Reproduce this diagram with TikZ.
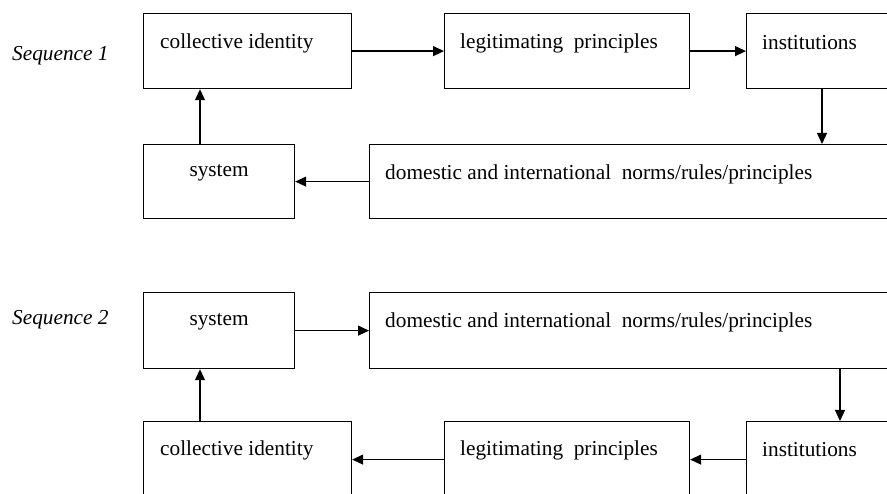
\documentclass[tikz,border=0pt]{standalone}
\usepackage{fontspec}
\setmainfont{Liberation Serif}
\usetikzlibrary{arrows.meta}
\begin{document}
\begin{tikzpicture}[x=1pt, y=-1pt,
    box/.style={draw, line width=1.2pt, rectangle, anchor=north west, inner sep=0pt},
    testo/.style={anchor=west, inner sep=0pt, font=\fontsize{21.3}{25}\selectfont},
    freccia/.style={line width=1.2pt, -{Triangle[length=11pt, width=10pt]}}]
    % Cornice
    \useasboundingbox (0,0) rectangle (887,494);
    \clip (0,0) rectangle (887,494);

    % Sequenza 1: riquadri
    \node[testo, font=\fontsize{21.3}{25}\selectfont\itshape] (seq1) at (12,56) {Sequence 1};
    \node[box, minimum width=208pt, minimum height=75pt] (ci1) at (143,13) {};
    \node[box, minimum width=245pt, minimum height=75pt] (lp1) at (444,13) {};
    \node[box, minimum width=160pt, minimum height=75pt] (in1) at (746,13) {};
    \node[box, minimum width=151pt, minimum height=74pt] (sy1) at (143,144) {};
    \node[box, minimum width=540pt, minimum height=74pt] (dn1) at (369,144) {};

    % Sequenza 1: testi
    \node[testo] (ci1t) at ([xshift=17pt, yshift=-30pt]ci1.north west) {collective identity};
    \node[testo] (lp1t) at ([xshift=16pt, yshift=-30pt]lp1.north west) {legitimating\ \ principles};
    \node[testo] (in1t) at ([xshift=16pt, yshift=-30pt]in1.north west) {institutions};
    \node[testo, anchor=center] (sy1t) at ([yshift=-29pt]sy1.north) {system};
    \node[testo] (dn1t) at ([xshift=16pt, yshift=-30pt]dn1.north west) {domestic and international\ \ norms/rules/principles};

    % Sequenza 1: frecce
    \draw[freccia] (ci1.east) -- (lp1.west);
    \draw[freccia] (lp1.east) -- (in1.west);
    \draw[freccia] ([xshift=76pt]in1.south west) -- ([xshift=453pt]dn1.north west);
    \draw[freccia] (dn1.west) -- (sy1.east);
    \draw[freccia] ([xshift=57pt]sy1.north west) -- ([xshift=57pt]ci1.south west);

    % Sequenza 2: riquadri
    \node[testo, font=\fontsize{21.3}{25}\selectfont\itshape] (seq2) at (12,320) {Sequence 2};
    \node[box, minimum width=151pt, minimum height=76pt] (sy2) at (143,292) {};
    \node[box, minimum width=540pt, minimum height=76pt] (dn2) at (369,292) {};
    \node[box, minimum width=208pt, minimum height=76pt] (ci2) at (143,421) {};
    \node[box, minimum width=245pt, minimum height=76pt] (lp2) at (444,421) {};
    \node[box, minimum width=160pt, minimum height=76pt] (in2) at (746,421) {};

    % Sequenza 2: testi
    \node[testo, anchor=center] (sy2t) at ([yshift=-30pt]sy2.north) {system};
    \node[testo] (dn2t) at ([xshift=16pt, yshift=-30pt]dn2.north west) {domestic and international\ \ norms/rules/principles};
    \node[testo] (ci2t) at ([xshift=17pt, yshift=-29pt]ci2.north west) {collective identity};
    \node[testo] (lp2t) at ([xshift=16pt, yshift=-29pt]lp2.north west) {legitimating\ \ principles};
    \node[testo] (in2t) at ([xshift=16pt, yshift=-29pt]in2.north west) {institutions};

    % Sequenza 2: frecce
    \draw[freccia] (sy2.east) -- (dn2.west);
    \draw[freccia] ([xshift=471pt]dn2.south west) -- ([xshift=94pt]in2.north west);
    \draw[freccia] (in2.west) -- (lp2.east);
    \draw[freccia] (lp2.west) -- (ci2.east);
    \draw[freccia] ([xshift=57pt]ci2.north west) -- ([xshift=57pt]sy2.south west);
\end{tikzpicture}
\end{document}
